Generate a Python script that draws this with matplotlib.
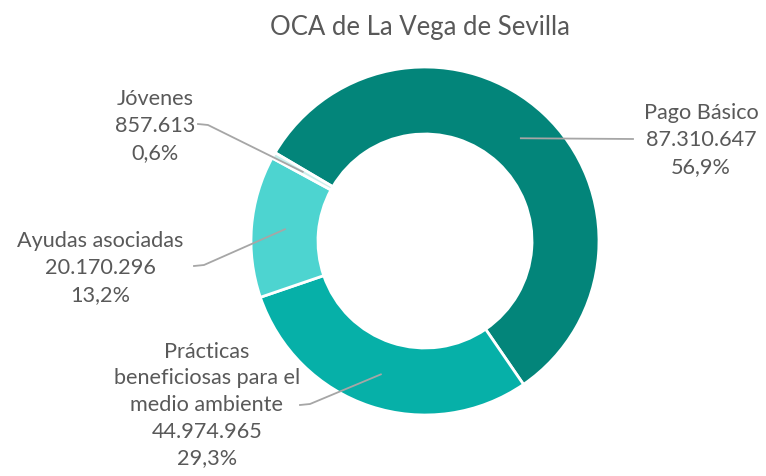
import numpy as np
import matplotlib
matplotlib.use("Agg")
import matplotlib.pyplot as plt

# payment lines for the OCA, in euros
categories = ["Pago Básico", "Prácticas\nbeneficiosas para el\nmedio ambiente",
              "Ayudas asociadas", "Jóvenes"]
values = [87310647, 44974965, 20170296, 857613]
colors = ["#03857a", "#06b0a8", "#4dd4d0", "#c9efec"]

W, H = 766, 477
CX, CY = 425, 477 - 242
R_OUT, R_IN = 174, 107

# label block centre (px from top-left) and where its leader starts
label_pos = [(701, 140), (207, 405), (100, 268), (155, 126)]
leader_start = [[(633, 140)], [(300, 406), (310, 405)],
                [(194, 267), (204, 266)], [(198, 125), (208, 126)]]

plt.rcParams["font.family"] = ["Lato", "DejaVu Sans"]
TXT = "#595959"

fig = plt.figure(figsize=(W / 100, H / 100), dpi=100)
ax = fig.add_axes([0, 0, 1, 1])

wedges, _ = ax.pie(values, colors=colors, startangle=149.5, counterclock=False,
                   center=(CX, CY), radius=R_OUT,
                   wedgeprops=dict(width=R_OUT - R_IN, edgecolor="white", linewidth=2))
ax.set_xlim(0, W)
ax.set_ylim(0, H)
ax.axis("off")

total = sum(values)


def fmt_num(v):
    return f"{v:,}".replace(",", ".")


for w, cat, v, (lx, ly), pts in zip(wedges, categories, values, label_pos, leader_start):
    mid = np.deg2rad((w.theta1 + w.theta2) / 2)
    rm = (R_OUT + R_IN) / 2
    ax_pt = (CX + rm * np.cos(mid), CY + rm * np.sin(mid))
    xs = [p[0] for p in pts] + [ax_pt[0]]
    ys = [H - p[1] for p in pts] + [ax_pt[1]]
    ax.plot(xs, ys, color="#a6a6a6", lw=1.3, zorder=3)
    pct = f"{100 * v / total:.1f}".replace(".", ",") + "%"
    ax.text(lx, H - ly, f"{cat}\n{fmt_num(v)}\n{pct}", ha="center", va="center",
            fontsize=15.6, color=TXT, linespacing=1.42)

ax.text(420, H - 28, "OCA de La Vega de Sevilla", ha="center", va="center",
        fontsize=18.5, color=TXT)

fig.savefig("out.png", dpi=100)
